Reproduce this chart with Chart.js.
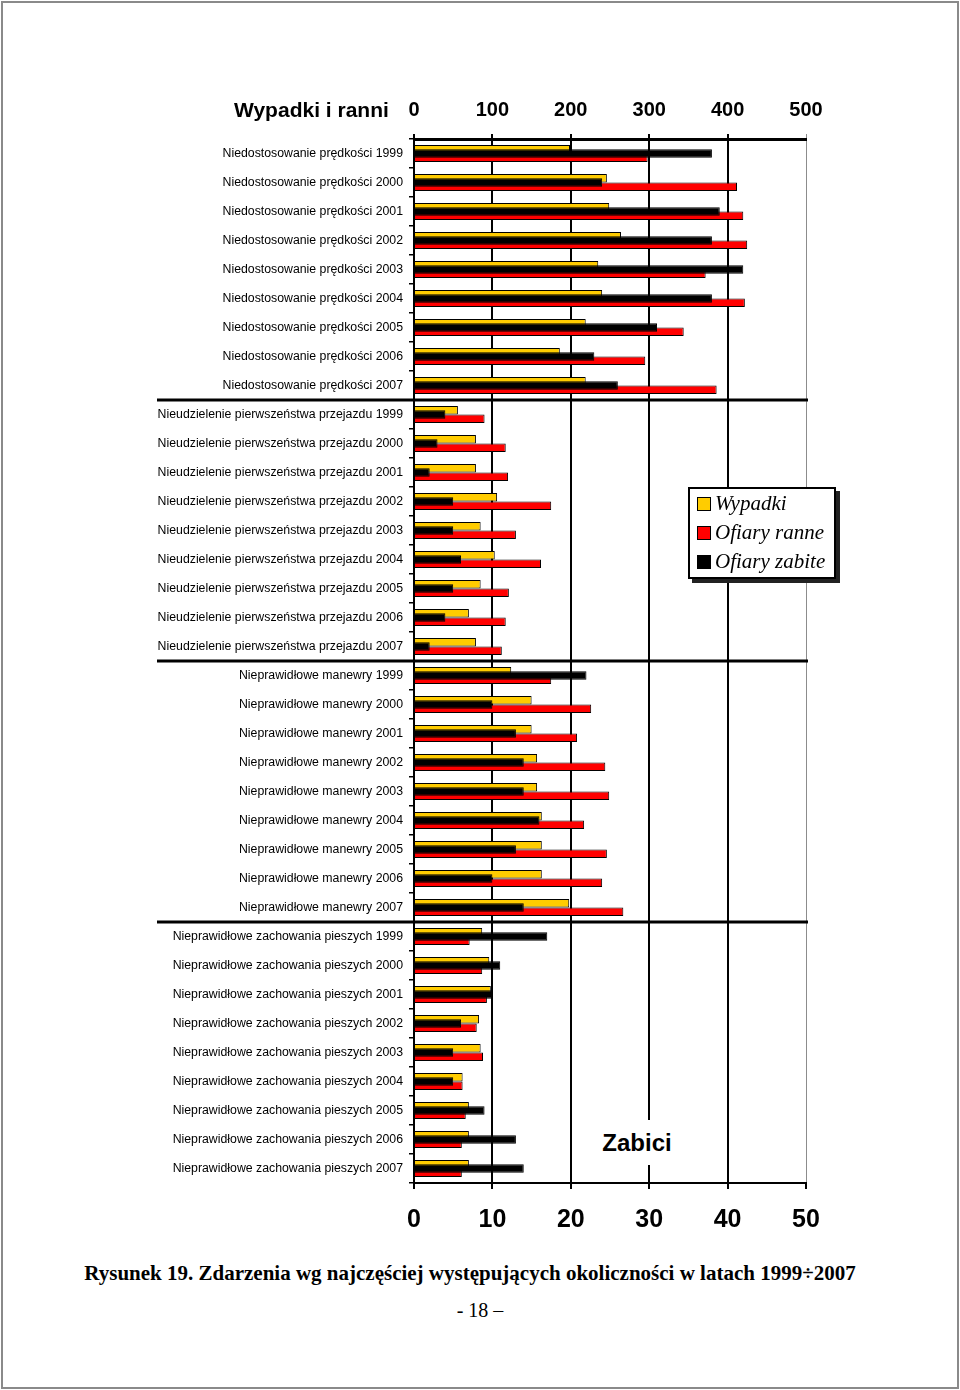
<!DOCTYPE html>
<html lang="pl">
<head>
<meta charset="utf-8">
<script src="https://cdn.jsdelivr.net/npm/chart.js@4/dist/chart.umd.min.js"></script>
<style>
  html, body { margin: 0; padding: 0; background: #fff; }
  #page { position: relative; width: 960px; height: 1390px; overflow: hidden; }
  #frame { position: absolute; left: 1px; top: 1px; width: 954px; height: 1384px; border: 2px solid #8a8a8a; }
  #chart { position: absolute; left: 0; top: 0; }
  .lbl { position: absolute; font-family: 'Liberation Sans', Arial, sans-serif; color: #000; white-space: nowrap; }
  #title { left: 234px; top: 97px; font-size: 21px; font-weight: bold; line-height: 26px; }
  #zabici { left: 597px; top: 1120px; width: 80px; height: 45px; line-height: 45px; text-align: center;
            font-size: 24px; font-weight: bold; background: #fff; }
  #legend { position: absolute; left: 688px; top: 487px; width: 144px; height: 88px; background: #fff;
            border: 2px solid #000; box-shadow: 4px 4px 0 #222; font-family: 'Liberation Serif', 'Times New Roman', serif;
            font-style: italic; font-size: 21px; }
  #legend div { display: flex; align-items: center; height: 29px; padding-left: 7px; }
  #legend span.sw { width: 12px; height: 12px; border: 1px solid #000; margin-right: 4px; }
  .serif { position: absolute; font-family: 'Liberation Serif', 'Times New Roman', serif; color: #000; white-space: nowrap; }
  #caption { left: 0; width: 940px; text-align: center; top: 1260px; font-size: 21px; font-weight: bold; line-height: 26px; }
  #pagenum { left: 0; width: 960px; text-align: center; top: 1297px; font-size: 20px; line-height: 26px; }
</style>
</head>
<body>
<div id="page">
  <div id="frame"></div>
  <canvas id="chart" width="960" height="1250"></canvas>
  <div id="title" class="lbl">Wypadki i ranni</div>
  <div id="zabici" class="lbl">Zabici</div>
  <div id="legend"></div>
  <div id="caption" class="serif">Rysunek 19. Zdarzenia wg najczęściej występujących okoliczności w latach 1999÷2007</div>
  <div id="pagenum" class="serif">- 18 –</div>
</div>
<script>
const causes = [
    'Niedostosowanie prędkości',
    'Nieudzielenie pierwszeństwa przejazdu',
    'Nieprawidłowe manewry',
    'Nieprawidłowe zachowania pieszych'
];
const years = [1999, 2000, 2001, 2002, 2003, 2004, 2005, 2006, 2007];
const categories = causes.flatMap(c => years.map(y => c + ' ' + y));

// Wypadki i ranni - top axis 0..500
const wypadki = [
    199, 246, 249, 264, 235, 240, 219, 186, 219,
    56, 79, 79, 106, 85, 103, 85, 70, 79,
    124, 150, 150, 157, 157, 163, 163, 163, 198,
    87, 96, 98, 83, 85, 62, 70, 70, 70
];
const ranne = [
    298, 412, 420, 425, 372, 422, 344, 295, 386,
    90, 117, 120, 175, 130, 162, 121, 117, 112,
    175, 226, 208, 244, 249, 217, 246, 240, 267,
    71, 87, 93, 80, 88, 62, 66, 61, 61
];
// Zabici - bottom axis 0..50
const zabite = [
    38, 24, 39, 38, 42, 38, 31, 23, 26,
    4, 3, 2, 5, 5, 6, 5, 4, 2,
    22, 10, 13, 14, 14, 16, 13, 10, 14,
    17, 11, 10, 6, 5, 5, 9, 13, 14
];

const topTicks = [0, 100, 200, 300, 400, 500];
const bottomTicks = [0, 10, 20, 30, 40, 50];
const seriesNames = ['Wypadki', 'Ofiary ranne', 'Ofiary zabite'];
const seriesColors = ['#FFCC00', '#FF0000', '#000000'];

// legend
const legend = document.getElementById('legend');
seriesNames.forEach((name, i) => {
    legend.innerHTML += `<div><span class="sw" style="background:${seriesColors[i]}"></span>${name}</div>`;
});

// black bars are drawn last, over the other two
const blackOnTop = {
    id: 'blackOnTop',
    beforeDatasetDraw(chart, args) {
        if (args.index === 1) return false;
    },
    afterDatasetsDraw(chart) {
        chart.getDatasetMeta(1).controller.draw();
    }
};

// thick lines between the groups of causes
const groupLines = {
    id: 'groupLines',
    afterDraw(chart) {
        const y = chart.scales.y;
        const ctx = chart.ctx;
        ctx.save();
        ctx.strokeStyle = '#000';
        ctx.lineWidth = 3;
        for (let g = 1; g < causes.length; g++) {
            const i = g * years.length;
            const py = (y.getPixelForValue(i - 1) + y.getPixelForValue(i)) / 2;
            ctx.beginPath();
            ctx.moveTo(157, py);
            ctx.lineTo(chart.chartArea.right + 2, py);
            ctx.stroke();
        }
        ctx.restore();
    }
};

new Chart(document.getElementById('chart'), {
    type: 'bar',
    data: {
        labels: categories,
        datasets: [{
            label: seriesNames[0],
            data: wypadki,
            xAxisID: 'x2',
            backgroundColor: seriesColors[0],
        }, {
            label: seriesNames[2],
            data: zabite,
            xAxisID: 'x',
            backgroundColor: seriesColors[2],
        }, {
            label: seriesNames[1],
            data: ranne,
            xAxisID: 'x2',
            backgroundColor: seriesColors[1],
        }]
    },
    options: {
        indexAxis: 'y',
        responsive: false,
        animation: false,
        devicePixelRatio: 1,
        events: [],
        layout: { padding: { left: 0, right: 154, top: 0, bottom: 0 } },
        datasets: {
            bar: {
                categoryPercentage: 0.434,
                barPercentage: 2,
                borderWidth: 1,
                borderColor: '#000'
            }
        },
        plugins: {
            legend: { display: false },
            tooltip: { enabled: false }
        },
        scales: {
            y: {
                type: 'category',
                position: 'left',
                offset: true,
                afterFit: s => { s.width = 414; },
                grid: { drawOnChartArea: false, tickLength: 5, color: '#000', lineWidth: 1.5, offset: true },
                border: { color: '#000', width: 2 },
                ticks: {
                    color: '#000',
                    padding: 6,
                    autoSkip: false,
                    font: { family: "'Liberation Sans', Arial", size: 12.3 }
                }
            },
            x2: {
                type: 'linear',
                position: 'top',
                min: 0,
                max: 500,
                afterFit: s => { s.height = 139; },
                afterBuildTicks: s => { s.ticks = topTicks.map(v => ({ value: v })); },
                grid: {
                    color: c => (c.tick && c.tick.value === 500) ? '#8c8c8c' : '#000',
                    lineWidth: c => (c.tick && c.tick.value === 500) ? 1 : 2,
                    tickLength: 5
                },
                border: { color: '#000', width: 3 },
                ticks: {
                    color: '#000',
                    padding: 12,
                    maxRotation: 0,
                    font: { family: "'Liberation Sans', Arial", size: 20, weight: 'bold' }
                }
            },
            x: {
                type: 'linear',
                position: 'bottom',
                min: 0,
                max: 50,
                afterFit: s => { s.height = 67; },
                afterBuildTicks: s => { s.ticks = bottomTicks.map(v => ({ value: v })); },
                grid: { drawOnChartArea: false, tickLength: 6, color: '#000', lineWidth: 2 },
                border: { color: '#000', width: 2 },
                ticks: {
                    color: '#000',
                    padding: 16,
                    maxRotation: 0,
                    font: { family: "'Liberation Sans', Arial", size: 25, weight: 'bold' }
                }
            }
        }
    },
    plugins: [blackOnTop, groupLines]
});
</script>
</body>
</html>
